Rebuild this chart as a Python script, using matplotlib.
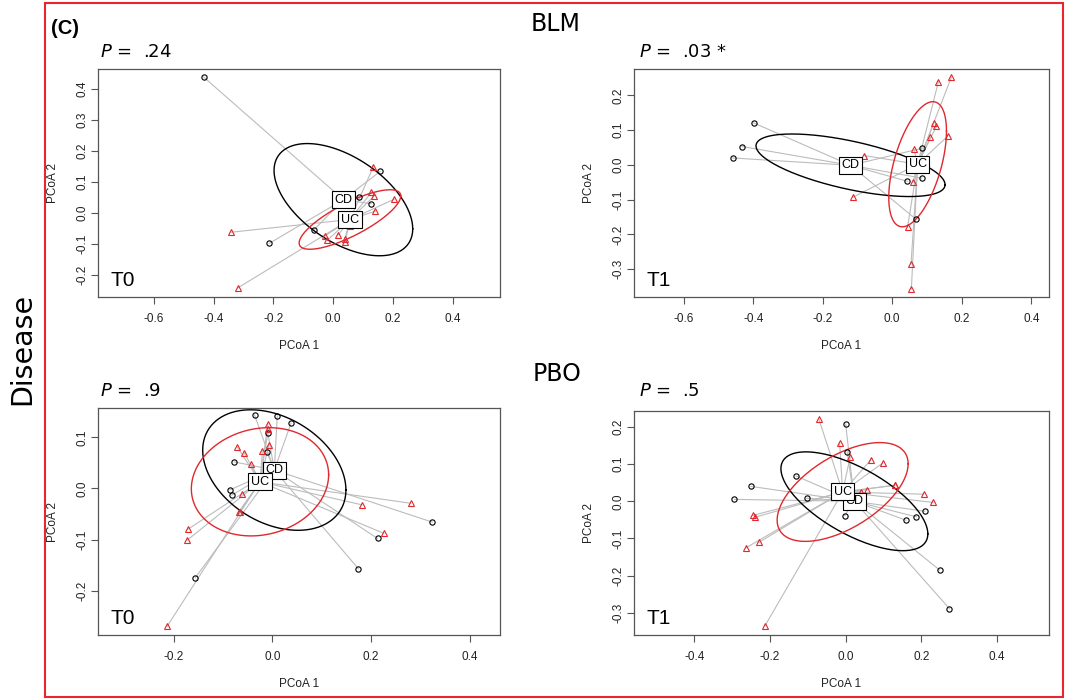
import numpy as np
import matplotlib
matplotlib.use("Agg")
import matplotlib.pyplot as plt
from matplotlib.patches import Rectangle
from matplotlib.ticker import FormatStrFormatter

# ---- data ----
# BLM, T0
blm_t0_cd_x = [-0.434, 0.157, 0.085, 0.127, -0.065, -0.214]
blm_t0_cd_y = [0.438, 0.133, 0.052, 0.029, -0.056, -0.099]
blm_t0_uc_x = [0.134, 0.128, 0.136, 0.205, 0.141, -0.341, -0.026, 0.017, -0.020, 0.039, 0.040, -0.320, 0.055]
blm_t0_uc_y = [0.147, 0.066, 0.053, 0.044, 0.005, -0.063, -0.074, -0.071, -0.089, -0.084, -0.095, -0.243, -0.042]
blm_t0_centroids = {"CD": (0.034, 0.042), "UC": (0.056, -0.022)}
blm_t0_ellipses = {"CD": (0.232, 0.181, -0.52), "UC": (0.170, 0.096, 0.79)}  # sd x, sd y, corr

# BLM, T1
blm_t1_cd_x = [-0.399, -0.432, -0.459, 0.086, 0.043, 0.085, 0.068]
blm_t1_cd_y = [0.121, 0.053, 0.020, 0.048, -0.047, -0.038, -0.156]
blm_t1_uc_x = [0.133, 0.170, 0.120, 0.127, 0.110, 0.161, 0.063, -0.081, 0.060, -0.113, 0.044, 0.054, 0.055]
blm_t1_uc_y = [0.240, 0.252, 0.121, 0.111, 0.079, 0.084, 0.045, 0.027, -0.050, -0.093, -0.179, -0.285, -0.357]
blm_t1_centroids = {"CD": (-0.120, -0.001), "UC": (0.073, 0.002)}
blm_t1_ellipses = {"CD": (0.272, 0.090, -0.62), "UC": (0.083, 0.180, 0.53)}

# PBO, T0
pbo_t0_cd_x = [-0.036, 0.010, 0.038, -0.009, -0.011, -0.077, -0.086, -0.082, 0.324, 0.213, 0.174, -0.156]
pbo_t0_cd_y = [0.144, 0.142, 0.128, 0.108, 0.071, 0.052, -0.003, -0.013, -0.066, -0.098, -0.157, -0.175]
pbo_t0_uc_x = [-0.009, -0.008, -0.007, -0.071, -0.057, -0.020, -0.043, -0.061, -0.068, -0.066, 0.181, 0.280, 0.226, -0.171, -0.172, -0.213]
pbo_t0_uc_y = [0.126, 0.116, 0.086, 0.081, 0.070, 0.074, 0.048, -0.011, -0.046, -0.046, -0.032, -0.029, -0.088, -0.080, -0.101, -0.270]
pbo_t0_centroids = {"CD": (0.004, 0.036), "UC": (-0.025, 0.013)}
pbo_t0_ellipses = {"CD": (0.145, 0.118, -0.33), "UC": (0.139, 0.106, 0.13)}

# PBO, T1
pbo_t1_cd_x = [0.000, 0.004, -0.131, -0.250, -0.294, -0.103, -0.003, 0.209, 0.187, 0.159, 0.248, 0.274]
pbo_t1_cd_y = [0.208, 0.133, 0.068, 0.040, 0.005, 0.008, -0.039, -0.027, -0.042, -0.051, -0.185, -0.289]
pbo_t1_uc_x = [-0.071, -0.016, 0.012, 0.067, 0.098, 0.130, 0.129, 0.056, 0.041, 0.206, 0.230, -0.245, -0.239, -0.228, -0.263, -0.213]
pbo_t1_uc_y = [0.222, 0.157, 0.120, 0.112, 0.103, 0.043, 0.043, 0.031, 0.026, 0.019, -0.003, -0.038, -0.043, -0.110, -0.125, -0.335]
pbo_t1_centroids = {"CD": (0.023, 0.000), "UC": (-0.008, 0.025)}
pbo_t1_ellipses = {"CD": (0.194, 0.133, -0.66), "UC": (0.173, 0.133, 0.57)}

p_labels = [".24", ".03 *", ".9", ".5"]
time_labels = ["T0", "T1", "T0", "T1"]

RED = "#e0282e"
GREY = "#bcbcbc"
AXC = "#555555"
RFONT = ["Liberation Sans", "DejaVu Sans"]


def ellipse_xy(center, params, n=200):
    t = np.linspace(0, 2 * np.pi, n)
    sx, sy, r = params
    x = center[0] + sx * np.cos(t)
    y = center[1] + sy * (r * np.cos(t) + np.sqrt(1 - r ** 2) * np.sin(t))
    return x, y


def draw_panel(ax, cd_x, cd_y, uc_x, uc_y, cents, ells, xlim, ylim, xt, yt, tlab):
    groups = [("CD", cd_x, cd_y, "black", "o", 3.8), ("UC", uc_x, uc_y, RED, "^", 4.5)]
    # spider lines
    for name, xs, ys, col, mk, ms in groups:
        cx, cy = cents[name]
        for x, y in zip(xs, ys):
            ax.plot([cx, x], [cy, y], color=GREY, lw=0.8, zorder=1)
    # ellipses
    for name, xs, ys, col, mk, ms in groups:
        ex, ey = ellipse_xy(cents[name], ells[name])
        ax.plot(ex, ey, color=col, lw=1.0, zorder=2)
    # points
    for name, xs, ys, col, mk, ms in groups:
        ax.plot(xs, ys, linestyle="none", marker=mk, ms=ms, mfc="none",
                mec=col, mew=0.8, zorder=3)
    # centroid labels
    for name in ["CD", "UC"]:
        cx, cy = cents[name]
        ax.text(cx, cy, name, ha="center", va="center", fontsize=9, family=RFONT,
                zorder=4, bbox=dict(boxstyle="square,pad=0.2", fc="white", ec="black", lw=0.8))
    ax.set_xlim(*xlim)
    ax.set_ylim(*ylim)
    ax.set_xticks(xt)
    ax.set_yticks(yt)
    ax.xaxis.set_major_formatter(FormatStrFormatter("%.1f"))
    ax.yaxis.set_major_formatter(FormatStrFormatter("%.1f"))
    ax.tick_params(direction="out", length=5, width=0.8, color=AXC, labelsize=8.5,
                   pad=6.5, labelcolor="#222222")
    for lab in ax.get_yticklabels():
        lab.set_rotation(90)
        lab.set_va("center")
        lab.set_ha("center")
    for lab in ax.get_xticklabels() + ax.get_yticklabels():
        lab.set_family(RFONT)
    for s in ax.spines.values():
        s.set_color(AXC)
        s.set_linewidth(0.9)
    ax.set_xlabel("PCoA 1", fontsize=8.5, family=RFONT, labelpad=11, color="#222222")
    ax.set_ylabel("PCoA 2", fontsize=8.5, family=RFONT, labelpad=12, color="#222222")
    ax.text(0.03, 0.03, tlab, transform=ax.transAxes, fontsize=15, family=RFONT,
            ha="left", va="bottom")


fig = plt.figure(figsize=(10.65, 6.99), dpi=100)
W, H = 1065.0, 699.0


def box(l, t, r, b):
    return [l / W, 1 - b / H, (r - l) / W, (b - t) / H]


ax1 = fig.add_axes(box(98, 69, 500, 297))
ax2 = fig.add_axes(box(634, 69, 1049, 297))
ax3 = fig.add_axes(box(98, 408, 500, 635))
ax4 = fig.add_axes(box(634, 411, 1049, 635))

draw_panel(ax1, blm_t0_cd_x, blm_t0_cd_y, blm_t0_uc_x, blm_t0_uc_y, blm_t0_centroids,
           blm_t0_ellipses, (-0.787, 0.558), (-0.272, 0.4635),
           [-0.6, -0.4, -0.2, 0.0, 0.2, 0.4], [-0.2, -0.1, 0.0, 0.1, 0.2, 0.3, 0.4], time_labels[0])
draw_panel(ax2, blm_t1_cd_x, blm_t1_cd_y, blm_t1_uc_x, blm_t1_uc_y, blm_t1_centroids,
           blm_t1_ellipses, (-0.743, 0.451), (-0.380, 0.276),
           [-0.6, -0.4, -0.2, 0.0, 0.2, 0.4], [-0.3, -0.2, -0.1, 0.0, 0.1, 0.2], time_labels[1])
draw_panel(ax3, pbo_t0_cd_x, pbo_t0_cd_y, pbo_t0_uc_x, pbo_t0_uc_y, pbo_t0_centroids,
           pbo_t0_ellipses, (-0.353, 0.461), (-0.287, 0.1575),
           [-0.2, 0.0, 0.2, 0.4], [-0.2, -0.1, 0.0, 0.1], time_labels[2])
draw_panel(ax4, pbo_t1_cd_x, pbo_t1_cd_y, pbo_t1_uc_x, pbo_t1_uc_y, pbo_t1_centroids,
           pbo_t1_ellipses, (-0.559, 0.537), (-0.360, 0.243),
           [-0.4, -0.2, 0.0, 0.2, 0.4], [-0.3, -0.2, -0.1, 0.0, 0.1, 0.2], time_labels[3])

# P values above panels
for (x, y), p in zip([(100, 57), (639, 57), (100, 396), (639, 396)], p_labels):
    fig.text(x / W, 1 - y / H, r"$\it{P}$ =  " + p, fontsize=13, family="DejaVu Sans",
             ha="left", va="baseline")

fig.text(51 / W, 1 - 28 / H, "(C)", fontsize=14.5, fontweight="bold", family=RFONT,
         ha="left", va="center")
fig.text(556 / W, 1 - 24 / H, "BLM", fontsize=17, family="DejaVu Sans", ha="center", va="center")
fig.text(557 / W, 1 - 374 / H, "PBO", fontsize=17, family="DejaVu Sans", ha="center", va="center")
fig.text(22 / W, 1 - 349 / H, "Disease", fontsize=20.5, family="DejaVu Sans", rotation=90,
         ha="center", va="center")

fig.add_artist(Rectangle((45 / W, 2 / H), 1018 / W, 694 / H, transform=fig.transFigure,
                         fill=False, ec="#e8262c", lw=1.5))

fig.savefig("out.png", dpi=100)
